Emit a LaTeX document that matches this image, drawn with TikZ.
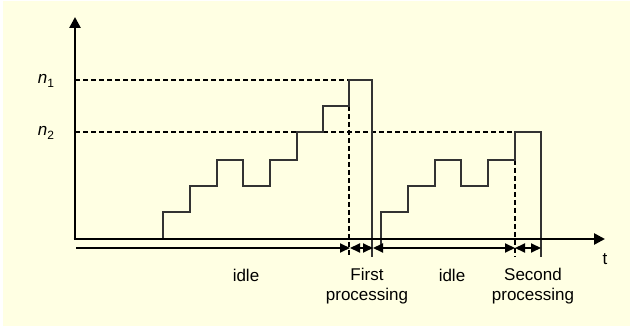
\documentclass[tikz,border=0pt]{standalone}
\usepackage{fontspec}
\setmainfont{Liberation Sans}
\usetikzlibrary{arrows.meta}
\definecolor{bgyellow}{HTML}{FFFFE3}
\definecolor{stairc}{HTML}{333333}
\newcommand{\nsub}[1]{{\itshape n}\raisebox{-0.35ex}{\fontsize{12}{12}\selectfont #1}}
\begin{document}
\begin{tikzpicture}[x=1pt,y=-1pt,
  axis/.style={line width=2.6pt,-{Triangle[length=11pt,width=11pt]}},
  guide/.style={line width=2pt,dash pattern=on 5pt off 3pt},
  stair/.style={line width=1.2pt,draw=stairc},
  bar/.style={line width=2pt},
  barhead/.style={bar,{Triangle[length=10pt,width=9pt]}-{Triangle[length=10pt,width=9pt]}},
  lbl/.style={font=\fontsize{17}{20}\selectfont,inner sep=0pt,align=center}]
\useasboundingbox (0,0) rectangle (630,331);
\fill[bgyellow] (3,1) rectangle (630,326);

% named coordinates
\coordinate (O) at (75,239);
\coordinate (Oleft) at (73.7,239);
\coordinate (Ytop) at (75,17);
\coordinate (Xend) at (605,239);

% guides
\draw[guide] (75,80) -- (349,80);
\draw[guide] (75,132) -- (515,132);
\draw[guide] (349,106) -- (349,257);
\draw[guide] (515,160) -- (515,257);

% staircase 1
\draw[stair] (163,239) |- (190,212) |- (217,186) |- (243,160) |- (270,186) |- (297,160)
  |- (323,132) |- (349,106) |- (372,80) -- (372,257);
% staircase 2
\draw[stair] (381,248) |- (408,212) |- (435,186) |- (461,160) |- (488,186) |- (515,160)
  |- (541,132) -- (541,257);

% axes
\draw[axis] (O) -- (Ytop);
\draw[axis] (Oleft) -- (Xend);

% time bar
\coordinate (b0) at (76,248);
\coordinate (b1) at (350,248);
\coordinate (b2) at (373,248);
\coordinate (b3) at (515,248);
\coordinate (b4) at (541,248);
\draw[bar,-{Triangle[length=10pt,width=9pt]}] (b0) -- (b1);
\draw[barhead] (b1) -- (b2);
\draw[barhead] (b2) -- (b3);
\draw[barhead] (b3) -- (b4);

% labels
\node[lbl] (n1) at (46,81) {\nsub{1}};
\node[lbl] (n2) at (46,133) {\nsub{2}};
\node[lbl] (idle1) at (246,275) {idle};
\node[lbl] (first) at (367,286) {First\\processing};
\node[lbl] (idle2) at (452,275) {idle};
\node[lbl] (second) at (533,286) {Second\\processing};
\node[lbl] (t) at (605,259) {t};
\end{tikzpicture}
\end{document}
